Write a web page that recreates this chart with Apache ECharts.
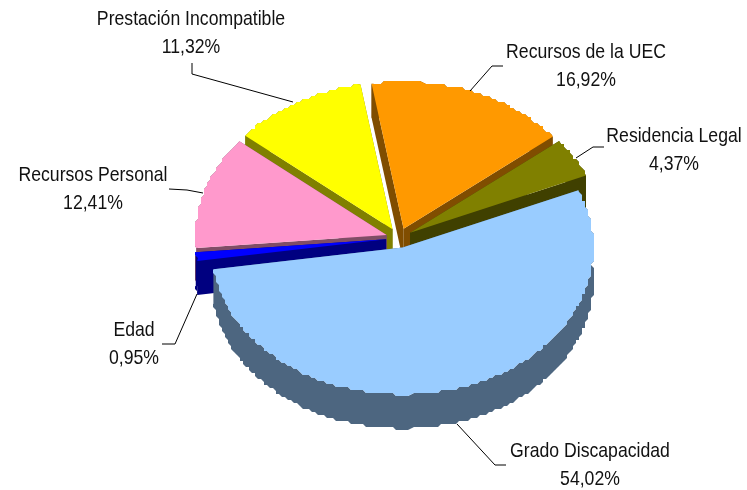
<!DOCTYPE html>
<html>
<head>
<meta charset="utf-8">
<title>Pie</title>
<style>
  html, body { margin: 0; padding: 0; background: #fff; }
  #chart { width: 747px; height: 490px; }
</style>
<script src="https://cdn.jsdelivr.net/npm/echarts@6/dist/echarts.min.js"></script>
</head>
<body>
<div id="chart"></div>
<script>
/* data, clockwise from the first slice */
var categories = ['Grado Discapacidad', 'Edad', 'Recursos Personal', 'Prestación Incompatible', 'Recursos de la UEC', 'Residencia Legal'];
var percents = [54.02, 0.95, 12.41, 11.32, 16.92, 4.37];
var colors = ['#99ccff', '#0000ff', '#ff99cc', '#ffff00', '#ff9900', '#808000'];
var sideColors = ['#4d6680', '#000080', '#804d66', '#808000', '#804d00', '#404000'];

/* 3d look of the pie */
var centerX = 399, centerY = 238;
var radiusX = 191, radiusY = 147, depth = 34;
var explode = 0.068;
var firstAngle = 67;
var paintOrder = [4, 3, 5, 2, 1, 0];
var rimStep = 3; // the rim of the original is rough, not smooth

/* label text centre and leader line, one per category */
var labelPos = [[590, 465], [134, 344.5], [93, 189.5], [191, 33], [586, 66.5], [674, 150.5]];
var leaders = [
  [[457, 424], [495, 465], [506, 465]],
  [[197, 294], [175, 344], [162, 344]],
  [[169, 189], [187, 190], [203, 193]],
  [[192, 63], [192, 74], [293, 102]],
  [[503, 66], [492, 66], [470, 91]],
  [[604, 147], [593, 147], [576, 158]]
];

var total = percents.reduce(function (a, b) { return a + b; }, 0);
var ranges = [];
var acc = firstAngle;
percents.forEach(function (v) {
  ranges.push([acc, acc + v / total * 360]);
  acc += v / total * 360;
});

function rimPoint(cx, cy, deg) {
  var r = deg * Math.PI / 180;
  return [cx + radiusX * Math.sin(r), cy - radiusY * Math.cos(r)];
}

// rim of one slice snapped to a coarse grid, the two ends stay exact
function rimPoints(cx, cy, a0, a1) {
  var pts = [rimPoint(cx, cy, a0)];
  for (var d = a0 + 1; d < a1; d += 1) {
    var p = rimPoint(cx, cy, d);
    pts.push([Math.round(p[0] / rimStep) * rimStep, Math.round(p[1] / rimStep) * rimStep]);
  }
  pts.push(rimPoint(cx, cy, a1));
  return pts;
}

function renderSlice(params, api) {
  var i = api.value(0);
  var a0 = ranges[i][0], a1 = ranges[i][1];
  var mid = (a0 + a1) / 2 * Math.PI / 180;
  var cx = centerX + explode * radiusX * Math.sin(mid);
  var cy = centerY - explode * radiusY * Math.cos(mid);
  var top = rimPoints(cx, cy, a0, a1);
  var under = top.map(function (p) { return [p[0], p[1] + depth]; });
  var band = top.concat(under.slice().reverse());
  var side = sideColors[i];
  function wall(p) {
    return [[cx, cy], p, [p[0], p[1] + depth], [cx, cy + depth]];
  }
  return {
    type: 'group',
    children: [
      { type: 'polygon', shape: { points: band }, style: { fill: side } },
      { type: 'polygon', shape: { points: wall(top[0]) }, style: { fill: side } },
      { type: 'polygon', shape: { points: wall(top[top.length - 1]) }, style: { fill: side } },
      { type: 'polygon', shape: { points: [[cx, cy]].concat(top) }, style: { fill: colors[i] } }
    ]
  };
}

function renderLabel(params, api) {
  var i = api.value(0);
  return {
    type: 'group',
    children: [
      { type: 'polyline', shape: { points: leaders[i] }, style: { fill: null, stroke: '#000', lineWidth: 1 } },
      {
        type: 'text',
        x: labelPos[i][0], y: labelPos[i][1],
        scaleX: 0.84,
        style: {
          text: categories[i] + '\n' + percents[i].toFixed(2).replace('.', ',') + '%',
          textAlign: 'center', textVerticalAlign: 'middle',
          fontFamily: '"Liberation Sans", Arial, sans-serif',
          fontSize: 21, lineHeight: 28, fill: '#111'
        }
      }
    ]
  };
}

var option = {
  animation: false,
  backgroundColor: '#fff',
  series: [
    {
      type: 'custom',
      coordinateSystem: 'none',
      silent: true,
      renderItem: renderSlice,
      data: paintOrder.map(function (i) { return [i]; })
    },
    {
      type: 'custom',
      coordinateSystem: 'none',
      silent: true,
      renderItem: renderLabel,
      data: categories.map(function (c, i) { return [i]; })
    }
  ]
};

var chart = echarts.init(document.getElementById('chart'));
chart.setOption(option);
</script>
</body>
</html>
